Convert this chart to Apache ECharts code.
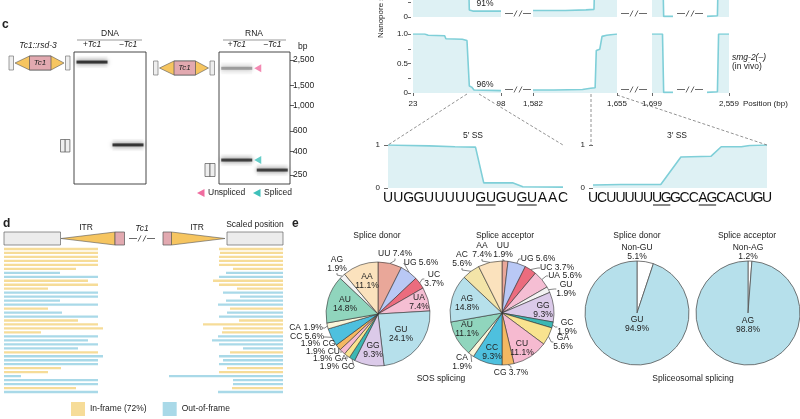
<!DOCTYPE html>
<html><head><meta charset="utf-8">
<script src="https://cdn.jsdelivr.net/npm/echarts@6/dist/echarts.min.js"></script>
<style>html,body{margin:0;padding:0;background:#fff}#c{width:800px;height:419px}</style>
</head><body><div id="c"></div>
<script>
// ---------------- DATA ----------------
// panel c: gel
const gelLanes = ['+Tc1', '−Tc1'];
const gelLadderBp = [250, 400, 600, 1000, 1500, 2500];
const dnaBandLane = ['+Tc1', '−Tc1'];
const dnaBandBp = [2390, 455];
const rnaUnsplicedLane = ['+Tc1'];
const rnaUnsplicedBp = [2110];
const rnaShortLane = ['+Tc1', '−Tc1'];
const rnaShortBp = [336, 275];
const splicedMarkerBp = [336];

// panel c: nanopore coverage
const segments = [[23, 98], [1582, 1655], [1699, 1717], [2540, 2559]];
const segmentTicks = [[23, 98], [1582, 1655], [1699], [2559]];
const topRowSignal = [
  [[23,1],[36,0.99],[50,0.97],[65,0.95],[70,0.93],[71,0.12],[74,0.1],[98,0.1]],
  [[1582,0.11],[1610,0.11],[1628,0.12],[1635,0.13],[1636,0.9],[1640,0.98],[1655,1]],
  [[1699,1],[1708,0.98],[1709,0.01],[1717,0.01]],
  [[2540,0.01],[2549,0.02],[2550,1],[2559,1]]
];
const bottomRowSignal = [
  [[23,1],[33,1],[36,0.98],[50,0.97],[51,0.92],[65,0.91],[69,0.89],[70,0.87],[71,0.12],[73,0.1],[75,0.05],[98,0.04]],
  [[1582,0.05],[1600,0.05],[1625,0.06],[1632,0.08],[1636,0.09],[1637,0.72],[1640,0.74],[1642,0.96],[1646,0.98],[1655,1]],
  [[1699,1],[1708,1],[1709,0.01],[1717,0.01]],
  [[2540,0.01],[2549,0.02],[2550,1],[2559,1]]
];
const ss5Seq = ['U','U','G','G','U','U','U','U','U','G','U','G','U','G','U','A','A','C'];
const ss5Signal = [[0,1],[4,0.98],[6.5,0.96],[8.5,0.95],[9.3,0.12],[12.1,0.12],[13.1,0.03],[17,0.02]];
const ss5Underlined = [[9,10],[13,14]];
const ss3Seq = ['U','C','U','U','U','U','U','U','G','G','C','C','A','G','C','A','C','U','G','U'];
const ss3Signal = [[0,0.07],[3,0.08],[7.4,0.08],[9.6,0.72],[12.9,0.74],[14,0.96],[16.2,0.96],[17.1,0.99],[19,1]];
const ss3Underlined = [[7,8],[12,13]];

// panel d: reads (scaled position)
const readFrame = ['in','in','in','in','in','in','out','out','in','in','in','out','out','out','out','in','out','out','in','in','in','in','out','out','out','out','in','out','out','out','in','in','out','out','out','in','out'];
const readLeft  = [94,94,94,94,94,72,56,94,84,94,44,94,94,56,94,44,58,94,74,94,99,37,94,84,94,74,94,99,94,94,57,44,17,94,94,72,94];
const readRight = [64,63,64,64,64,50,57,64,70,64,46,60,43,57,65,53,56,64,44,80,60,61,65,71,64,40,53,64,60,64,56,64,114,50,50,51,65];
const frameNames = {in: 'In-frame (72%)', out: 'Out-of-frame'};

// panel e: pies
const sosDonorNames = ['UU','UG','UC','UA','GU','GG','GC','GA','CU','CG','CC','CA','AU','AG','AA'];
const sosDonorCounts = [4,3,2,4,13,5,1,1,1,1,3,1,8,1,6];
const sosAcceptorNames = ['UU','UG','UC','UA','GU','GG','GC','GA','CU','CG','CC','CA','AU','AG','AC','AA'];
const sosAcceptorCounts = [1,3,2,3,1,5,1,3,6,2,5,1,6,8,3,4];
const spliceoDonorNames = ['Non-GU','GU'];
const spliceoDonorPct = [5.1, 94.9];
const spliceoAcceptorNames = ['Non-AG','AG'];
const spliceoAcceptorPct = [1.2, 98.8];

// ---------------- STYLE ----------------
const FONT = "'Liberation Sans', Arial, Helvetica, sans-serif";
const INK = '#222';
const LINE = '#7fcfd8', AREA = '#def1f4';
const donorColors = ['#e9a799','#b9c8f5','#eb6c7e','#f5bed3','#b6e0eb','#dbcae9','#3cb7b3','#f9e38f','#f6bad0','#f4b862','#4ec0de','#faf6da','#90d5bd','#f3f3f3','#fbe2bd'];
const acceptorColors = ['#e9a799','#b9c8f5','#eb6c7e','#f5bed3','#f3f3f3','#dbcae9','#3cb7b3','#f9e38f','#f6bad0','#f4b862','#4ec0de','#faf6da','#90d5bd','#b6e0eb','#f3e4a8','#fbe2bd'];
const spliceoColors = ['#ffffff','#b6e0eb'];
// label placement (text layout, not marks)
const donorLabelPlaces = [[395,254],[421,263],[434,279],[419,302],[401,334],[373,350],[337,367],[330,359],[323,352],[318,344],[307,337],[306,328],[345,304],[337,264],[367,281]];
const donorLabelKinds = ['np','np','n/p','in','in','in','pn','pn','pn','pn','np','np','in','n/p','in'];
const acceptorLabelPlaces = [[503,250],[538,259],[557,268],[565,276],[566,289],[543,310],[567,327],[563,342],[522,348],[511,373],[492,352],[462,362],[467,329],[467,303],[462,259],[482,250]];
const acceptorLabelKinds = ['n/p','np','np','np','n/p','in','n/p','n/p','in','np','in','n/p','in','in','n/p','n/p'];

// ---------------- BUILD ----------------
const chart = echarts.init(document.getElementById('c'), null, {renderer: 'canvas', width: 800, height: 419});
const f = (s, o = {}) => `${o.italic ? 'italic ' : ''}${o.bold ? 'bold ' : ''}${s}px ${FONT}`;
function txt(x, y, text, o = {}) {
  return {type: 'text', x, y, rotation: o.rot || 0, silent: true, z: 50,
    style: {text, fill: o.fill || INK, font: f(o.size || 8.5, o), align: o.align || 'center', verticalAlign: o.va || 'middle'}};
}
function ln(x1, y1, x2, y2, o = {}) {
  return {type: 'line', silent: true, z: 50, shape: {x1, y1, x2, y2},
    style: {stroke: o.stroke || '#333', lineWidth: o.w || 0.8, lineDash: o.dash || null}};
}
function rc(x, y, w, h, fill, stroke) {
  return {type: 'rect', silent: true, z: 50, shape: {x, y, width: w, height: h}, style: {fill, stroke: stroke || '#555', lineWidth: 0.7}};
}
function pg(points, fill, stroke) {
  return {type: 'polygon', silent: true, z: 50, shape: {points}, style: {fill, stroke: stroke || '#555', lineWidth: 0.6}};
}
function construct(x0, cy) {
  return [
    rc(x0, cy - 7, 4.5, 14, '#eeeeee', '#777'),
    pg([[x0 + 6, cy], [x0 + 20.5, cy - 7], [x0 + 42, cy - 7], [x0 + 55, cy], [x0 + 42, cy + 7], [x0 + 20.5, cy + 7]], '#f6c560'),
    rc(x0 + 20.5, cy - 7, 21.5, 14, '#e2a9b0', '#555'),
    txt(x0 + 31, cy, 'Tc1', {italic: true, size: 8}),
    rc(x0 + 56.5, cy - 7, 4.5, 14, '#eeeeee', '#777')
  ];
}
function brk(cx, cy) {
  const c = '#444';
  return [ln(cx - 13, cy, cx - 5, cy, {stroke: c, w: 0.8}), ln(cx - 4, cy + 3, cx - 1, cy - 3, {stroke: c, w: 0.8}),
          ln(cx + 1, cy + 3, cx + 4, cy - 3, {stroke: c, w: 0.8}), ln(cx + 5, cy, cx + 13, cy, {stroke: c, w: 0.8})];
}

const grid = [], xAxis = [], yAxis = [], series = [];

// grids 0,1: gels
const gelY = {type: 'log', logBase: 10, min: 208, max: 2924};
[[74, 72], [219, 71]].forEach(([left, width], gi) => {
  grid.push({left, top: 52, width, height: 132, show: true, borderColor: '#333', borderWidth: 0.9, backgroundColor: '#fff'});
  xAxis.push({gridIndex: gi, type: 'category', data: gelLanes, position: 'top',
    axisLine: {show: false}, axisTick: {show: false},
    axisLabel: {fontStyle: 'italic', fontSize: 8.5, color: INK, margin: 3, fontFamily: FONT}});
  if (gi === 0) yAxis.push(Object.assign({gridIndex: 0, show: false}, gelY));
  else yAxis.push(Object.assign({gridIndex: 1, position: 'right', axisLine: {show: false},
    axisTick: {show: true, customValues: gelLadderBp, length: 4, lineStyle: {color: '#333', width: 0.8}},
    axisLabel: {customValues: gelLadderBp, formatter: v => Number(v).toLocaleString('en-US'), fontSize: 8.5, color: INK, margin: 3, fontFamily: FONT},
    splitLine: {show: false}, minorTick: {show: false},
    name: 'bp', nameLocation: 'end', nameGap: 1, nameTextStyle: {fontSize: 8.5, color: INK, align: 'left', padding: [0, 0, 0, 8], fontFamily: FONT}}, gelY));
});
function bandSeries(gi, lanes, bps, color, blurColor) {
  return [
    {type: 'scatter', xAxisIndex: gi, yAxisIndex: gi, symbol: 'rect', symbolSize: [31, 12], silent: true,
     itemStyle: {color: 'rgba(0,0,0,0.035)', shadowBlur: 6, shadowColor: 'rgba(0,0,0,0.08)'},
     data: lanes.map((l, i) => [l, bps[i]])},
    {type: 'scatter', xAxisIndex: gi, yAxisIndex: gi, symbol: 'rect', symbolSize: [31, 3], silent: true,
     itemStyle: {color, shadowBlur: 4, shadowColor: blurColor},
     data: lanes.map((l, i) => [l, bps[i]])}
  ];
}
series.push(...bandSeries(0, dnaBandLane, dnaBandBp, '#151515', 'rgba(0,0,0,0.7)'));
series.push(...bandSeries(1, rnaUnsplicedLane, rnaUnsplicedBp, '#8d8d8d', 'rgba(0,0,0,0.35)'));
series.push(...bandSeries(1, rnaShortLane, rnaShortBp, '#222', 'rgba(0,0,0,0.7)'));
series.push({type: 'scatter', xAxisIndex: 1, yAxisIndex: 1, symbol: 'triangle', symbolSize: [8, 7], symbolRotate: 90, symbolOffset: [21, 0], silent: true,
  itemStyle: {color: '#f06c9f'}, data: rnaUnsplicedLane.map((l, i) => [l, rnaUnsplicedBp[i]])});
series.push({type: 'scatter', xAxisIndex: 1, yAxisIndex: 1, symbol: 'triangle', symbolSize: [8, 7], symbolRotate: 90, symbolOffset: [21, 0], silent: true,
  itemStyle: {color: '#3ec0ba'}, data: splicedMarkerBp.map(b => ['+Tc1', b])});

// grids 2..9: nanopore rows (top row is cropped by the figure edge: only 0..0.288 visible)
const segPix = [[413, 88], [533, 84], [652, 21], [707, 22]];
const rows = [{top: 0, height: 17, max: 17 / 59, ticks: [0, 0.25]}, {top: 34, height: 59, max: 1, ticks: [0, 0.25, 0.5, 0.75, 1]}];
const yFmt = v => (v === 1 ? '1.0' : v === 0.5 ? '0.5' : v === 0 ? '0' : '');
[topRowSignal, bottomRowSignal].forEach((rowData, r) => {
  rowData.forEach((d, s) => {
    const gi = grid.length;
    grid.push({left: segPix[s][0], width: segPix[s][1], top: rows[r].top, height: rows[r].height});
    const xa = {gridIndex: gi, type: 'value', min: segments[s][0], max: segments[s][1], splitLine: {show: false}};
    if (r === 1) Object.assign(xa, {axisLine: {show: false}, offset: 2,
      axisTick: {show: true, customValues: segmentTicks[s], length: 3, lineStyle: {color: '#444', width: 0.8}},
      axisLabel: {customValues: segmentTicks[s], formatter: v => Number(v).toLocaleString('en-US'), fontSize: 8, color: INK, margin: 5, fontFamily: FONT}});
    else xa.show = false;
    if (r === 1 && s === 3) Object.assign(xa, {name: 'Position (bp)', nameLocation: 'end', nameGap: 12,
      nameTextStyle: {fontSize: 8, color: INK, verticalAlign: 'top', padding: [7, 0, 0, 0], fontFamily: FONT}});
    xAxis.push(xa);
    const ya = {gridIndex: gi, type: 'value', min: 0, max: rows[r].max, splitLine: {show: false}};
    if (s === 0) Object.assign(ya, {axisLine: {show: false}, offset: 2,
      axisTick: {show: true, customValues: rows[r].ticks, length: 3, lineStyle: {color: '#444', width: 0.8}},
      axisLabel: {customValues: rows[r].ticks, formatter: yFmt, fontSize: 8, color: INK, margin: 3, fontFamily: FONT}});
    else ya.show = false;
    yAxis.push(ya);
    series.push({type: 'line', xAxisIndex: gi, yAxisIndex: gi, data: d, showSymbol: false, silent: true,
      lineStyle: {color: LINE, width: 1.6}, areaStyle: {color: AREA, opacity: 1}});
  });
});

// grids 10, 11: splice site zooms (value x-axis for data, category x-axis for the nucleotides)
const zoomDefs = [
  {left: 388, width: 175, seq: ss5Seq, sig: ss5Signal, yOff: 6, ul: ss5Underlined},
  {left: 593, width: 174, seq: ss3Seq, sig: ss3Signal, yOff: 6, ul: ss3Underlined}
];
zoomDefs.forEach(z => {
  const gi = grid.length;
  grid.push({left: z.left, width: z.width, top: 145, height: 43});
  z.xIdx = xAxis.length;
  xAxis.push({gridIndex: gi, type: 'value', min: 0, max: z.seq.length - 1, show: false});
  xAxis.push({gridIndex: gi, type: 'category', data: z.seq, boundaryGap: false, position: 'bottom',
    axisLine: {show: false}, axisTick: {show: false}, splitLine: {show: false},
    axisLabel: {interval: 0, fontSize: 14, color: '#111', margin: 3, fontFamily: FONT}});
  z.yIdx = yAxis.length;
  yAxis.push({gridIndex: gi, type: 'value', min: 0, max: 1, interval: 1, offset: z.yOff, splitLine: {show: false},
    axisLine: {show: false}, axisTick: {show: true, length: 4, lineStyle: {color: '#444', width: 0.8}},
    axisLabel: {fontSize: 8, color: INK, margin: 2, fontFamily: FONT}});
  series.push({type: 'line', xAxisIndex: z.xIdx, yAxisIndex: z.yIdx, data: z.sig, showSymbol: false, silent: true,
    lineStyle: {color: LINE, width: 1.6}, areaStyle: {color: AREA, opacity: 1}});
});

// grids: reads
const readIds = readFrame.map((_, i) => 'r' + (i + 1));
[[4, 100, false], [163, 120, true]].forEach(([left, width, inv], k) => {
  const gi = grid.length;
  grid.push({left, width, top: 247, height: 147});
  const xi = xAxis.length, yi = yAxis.length;
  xAxis.push({gridIndex: gi, type: 'value', min: 0, max: width, inverse: inv, show: false});
  yAxis.push({gridIndex: gi, type: 'category', data: readIds, inverse: true, show: false});
  const vals = k === 0 ? readLeft : readRight;
  ['in', 'out'].forEach(fr => {
    series.push({type: 'bar', name: frameNames[fr], xAxisIndex: xi, yAxisIndex: yi, barWidth: 2.3, barGap: '-100%', silent: true,
      itemStyle: {color: fr === 'in' ? '#f6dc98' : '#a9d9e8'},
      data: vals.map((v, i) => (readFrame[i] === fr ? v : '-'))});
  });
});

// pies
function pct(v, tot) { return (v / tot * 100).toFixed(1) + '%'; }
function pieSeries(names, values, colors, center, kinds, places, opts = {}) {
  const tot = values.reduce((a, b) => a + b, 0);
  return {
    type: 'pie', center, radius: 52, startAngle: 90, clockwise: true, avoidLabelOverlap: false, silent: true,
    itemStyle: {borderColor: opts.border || '#333', borderWidth: opts.bw || 0.6},
    label: {fontSize: 8.5, color: INK, fontFamily: FONT, lineHeight: 9, align: 'center'},
    labelLine: {length: 3, length2: 2, smooth: false, lineStyle: {color: '#333', width: 0.6}},
    labelLayout: p => ({x: places[p.dataIndex][0], y: places[p.dataIndex][1], align: 'center', verticalAlign: 'middle'}),
    data: names.map((n, i) => {
      const p = opts.raw ? values[i].toFixed(1) + '%' : pct(values[i], tot);
      const k = kinds[i];
      const t = k === 'np' ? `${n} ${p}` : k === 'pn' ? `${p} ${n}` : `${n}\n${p}`;
      return {name: n, value: values[i], itemStyle: {color: colors[i]},
        label: {position: k === 'in' ? 'inside' : 'outside', formatter: t},
        labelLine: {show: k !== 'in' && !opts.noLine}};
    })
  };
}
series.push(pieSeries(sosDonorNames, sosDonorCounts, donorColors, [378, 314], donorLabelKinds, donorLabelPlaces));
series.push(pieSeries(sosAcceptorNames, sosAcceptorCounts, acceptorColors, [502, 313], acceptorLabelKinds, acceptorLabelPlaces));
series.push(pieSeries(spliceoDonorNames, spliceoDonorPct, spliceoColors, [637, 313], ['n/p', 'in'], [[637, 252], [637, 324]], {raw: true, noLine: true, border: '#555', bw: 0.8}));
series.push(pieSeries(spliceoAcceptorNames, spliceoAcceptorPct, spliceoColors, [748, 313], ['n/p', 'in'], [[748, 252], [748, 325]], {raw: true, noLine: true, border: '#555', bw: 0.8}));

// graphics (diagrams & annotation text)
const graphics = [];
graphics.push(txt(2, 25, 'c', {bold: true, size: 12, align: 'left'}));
graphics.push(txt(38, 46, 'Tc1::rsd-3', {italic: true}));
graphics.push(...construct(9, 63), ...construct(153.5, 68));
graphics.push(rc(60.5, 139.5, 4.7, 12.5, '#eeeeee', '#555'), rc(65.2, 139.5, 4.7, 12.5, '#eeeeee', '#555'));
graphics.push(rc(205, 163.5, 5, 13, '#eeeeee', '#555'), rc(210, 163.5, 5, 13, '#eeeeee', '#555'));
graphics.push(txt(110, 34, 'DNA'), ln(77, 40, 142, 40, {stroke: '#999', w: 1}));
graphics.push(txt(254, 34, 'RNA'), ln(223, 40, 286, 40, {stroke: '#999', w: 1}));
graphics.push(pg([[197, 193], [204.5, 189], [204.5, 197]], '#f06c9f', 'none'), txt(208, 193, 'Unspliced', {align: 'left'}));
graphics.push(pg([[253, 193], [260.5, 189], [260.5, 197]], '#3ec0ba', 'none'), txt(264, 193, 'Spliced', {align: 'left'}));
graphics.push(txt(381, 38, 'Nanopore signal', {rot: Math.PI / 2, align: 'left', size: 8}));
graphics.push(txt(485, 4, '91%'), txt(485, 85, '96%'));
graphics.push(txt(732, 58, 'smg-2(–)', {italic: true, align: 'left'}), txt(732, 67, '(in vivo)', {align: 'left'}));
[[518, 13.5], [634, 13.5], [690, 13.5], [518, 89.5], [634, 89.5], [690, 89.5]].forEach(([x, y]) => graphics.push(...brk(x, y)));
const dash = {stroke: '#777', w: 0.8, dash: [3, 2]};
graphics.push(ln(467, 94, 388, 145, dash), ln(479, 94, 563, 145, dash), ln(591, 94, 591, 146, dash), ln(617, 95, 767, 145, dash));
graphics.push(txt(473, 136, '5′ SS'), txt(677, 136, '3′ SS'));
graphics.push(txt(3, 224, 'd', {bold: true, size: 12, align: 'left'}));
graphics.push(rc(4, 232, 56.5, 13, '#ececec', '#666'));
graphics.push(pg([[61, 238.5], [115, 232], [115, 245]], '#f6c560'));
graphics.push(rc(115, 232, 9.5, 13, '#e2a9b0', '#555'));
graphics.push(txt(86, 228, 'ITR'));
graphics.push(txt(142, 229, 'Tc1', {italic: true}), ...brk(142, 238.5));
graphics.push(rc(163, 232, 8.5, 13, '#e2a9b0', '#555'));
graphics.push(pg([[171.5, 232], [171.5, 245], [225, 238.5]], '#f6c560'));
graphics.push(rc(227, 232, 56, 13, '#ececec', '#666'));
graphics.push(txt(197, 228, 'ITR'), txt(255, 225, 'Scaled position'));
graphics.push(txt(292, 224, 'e', {bold: true, size: 12, align: 'left'}));
graphics.push(txt(377, 236, 'Splice donor'), txt(505, 236, 'Splice acceptor'), txt(637, 236, 'Splice donor'), txt(747, 236, 'Splice acceptor'));
graphics.push(txt(441, 379, 'SOS splicing'), txt(693, 379, 'Spliceosomal splicing'));

const option = {
  animation: false,
  textStyle: {fontFamily: FONT},
  grid, xAxis, yAxis, series,
  legend: [{data: [frameNames.in, frameNames.out], left: 66, top: 397, itemWidth: 14, itemHeight: 14, itemGap: 16, icon: 'rect',
    selectedMode: false, textStyle: {fontSize: 8.5, color: INK, fontFamily: FONT}}],
  graphic: graphics
};
chart.setOption(option);

// underline splice-site dinucleotides using the axis scale
const ul = [];
zoomDefs.forEach(z => {
  const finder = {xAxisIndex: z.xIdx, yAxisIndex: z.yIdx};
  const p0 = chart.convertToPixel(finder, [0, 0]);
  const p1 = chart.convertToPixel(finder, [1, 0]);
  const half = (p1[0] - p0[0]) / 2;
  z.ul.forEach(([a, b]) => {
    const xa = chart.convertToPixel(finder, [a, 0])[0] - half + 0.5;
    const xb = chart.convertToPixel(finder, [b, 0])[0] + half - 0.5;
    ul.push(ln(xa, p0[1] + 17, xb, p0[1] + 17, {stroke: '#111', w: 1}));
  });
});
chart.setOption({graphic: graphics.concat(ul)});
</script></body></html>
